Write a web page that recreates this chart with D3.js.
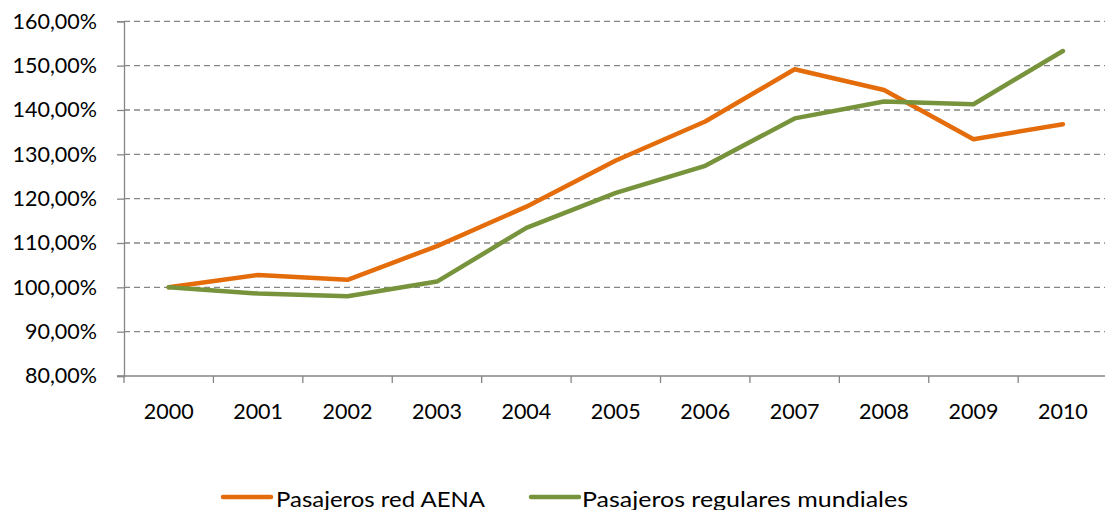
<!DOCTYPE html>
<html><head><meta charset="utf-8">
<script src="https://cdn.jsdelivr.net/npm/d3@7"></script>
<style>html,body{margin:0;padding:0;background:#fff;overflow:hidden}</style>
</head><body>
<svg id="chart" width="1105" height="510"></svg>
<script>
const years = ["2000","2001","2002","2003","2004","2005","2006","2007","2008","2009","2010"];
const aena = [100.0,102.8,101.7,109.3,118.2,128.6,137.4,149.2,144.5,133.4,136.8];
const mundiales = [100.0,98.6,98.0,101.3,113.4,121.3,127.4,138.1,141.9,141.3,153.3];
const yTicks = [80,90,100,110,120,130,140,150,160];
const seriesNames = ["Pasajeros red AENA","Pasajeros regulares mundiales"];

(function(){
const svg = d3.select("#chart");
const pLeft = 124, pRight = 1107.6, pTop = 21.3, pBottom = 376;
const font = "Lato, 'Open Sans', sans-serif";
const axisColor = "#868686";

const x = d3.scaleBand().domain(years).range([pLeft, pRight]);
const y = d3.scaleLinear().domain([80,160]).range([pBottom, pTop]);

// gridlines
svg.append("g").selectAll("line").data(yTicks.filter(t=>t>80)).join("line")
  .attr("x1", pLeft).attr("x2", 1105)
  .attr("y1", d=>y(d)).attr("y2", d=>y(d))
  .attr("stroke", axisColor).attr("stroke-width", 1.3)
  .attr("stroke-dasharray", "6,4");

// y axis
const yAxis = d3.axisLeft(y).tickValues(yTicks).tickSize(7).tickPadding(20)
  .tickFormat(d => d3.format(".2f")(d).replace(".", ",") + "%");
const gy = svg.append("g").attr("transform", `translate(${pLeft},0)`).call(yAxis);
gy.select(".domain").attr("stroke", axisColor).attr("stroke-width", 1.3);
gy.selectAll(".tick line").attr("stroke", axisColor).attr("stroke-width", 1.3);
gy.selectAll(".tick text").attr("font-family", font).attr("font-size", 21.5).attr("fill", "#000");

// x axis
const gx = svg.append("g");
gx.append("line").attr("x1", pLeft - 7).attr("x2", 1105).attr("y1", pBottom).attr("y2", pBottom)
  .attr("stroke", axisColor).attr("stroke-width", 1.3);
const bounds = years.map(d => x(d)).concat([x(years[years.length-1]) + x.bandwidth()]);
gx.selectAll("line.tk").data(bounds).join("line").attr("class","tk")
  .attr("x1", d=>d).attr("x2", d=>d).attr("y1", pBottom).attr("y2", pBottom + 7)
  .attr("stroke", axisColor).attr("stroke-width", 1.3);
gx.selectAll("text").data(years).join("text")
  .attr("x", d => x(d) + x.bandwidth()/2).attr("y", 418.5)
  .attr("text-anchor", "middle").attr("font-family", font).attr("font-size", 21.5)
  .attr("fill", "#000").text(d=>d);

// lines
const colors = ["#E46C0A", "#77933C"];
const data = [aena, mundiales];
const line = d3.line().x((d,i) => x(years[i]) + x.bandwidth()/2).y(d => y(d));
svg.append("g").selectAll("path").data(data).join("path")
  .attr("d", line).attr("fill", "none")
  .attr("stroke", (d,i) => colors[i]).attr("stroke-width", 4.5)
  .attr("stroke-linejoin", "round").attr("stroke-linecap", "round");

// legend
const leg = [{x1:223, x2:271, tx:276, tl:209}, {x1:531, x2:579, tx:582, tl:326}];
const lg = svg.append("g");
seriesNames.forEach((n,i) => {
  lg.append("line").attr("x1", leg[i].x1).attr("x2", leg[i].x2).attr("y1", 497).attr("y2", 497)
    .attr("stroke", colors[i]).attr("stroke-width", 4.5).attr("stroke-linecap", "round");
  lg.append("text").attr("x", leg[i].tx).attr("y", 506.5)
    .attr("font-family", font).attr("font-size", 21.5).attr("fill", "#000")
    .attr("textLength", leg[i].tl).attr("lengthAdjust", "spacingAndGlyphs")
    .text(n);
});
})();
</script>
</body></html>
